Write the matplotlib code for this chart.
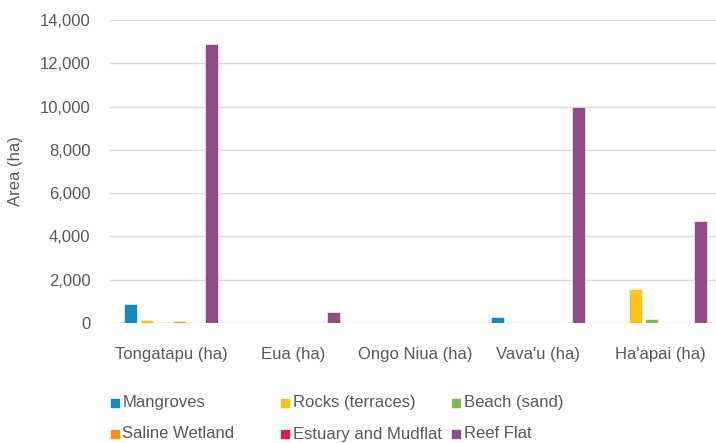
import numpy as np
import matplotlib.pyplot as plt
from matplotlib.patches import Rectangle

plt.rcParams['font.family'] = ['Liberation Sans', 'DejaVu Sans']

islands = ['Tongatapu (ha)', 'Eua (ha)', 'Ongo Niua (ha)', "Vava'u (ha)", "Ha'apai (ha)"]
series = ['Mangroves', 'Rocks (terraces)', 'Beach (sand)',
          'Saline Wetland', 'Estuary and Mudflat', 'Reef Flat']
colors = ['#1689BD', '#FDC01C', '#7CBB50', '#FB9112', '#DA1E4F', '#8F4C89']

mangroves = [880, 0, 0, 285, 0]
rocks = [140, 0, 0, 30, 1570]
beach = [40, 0, 0, 0, 170]
saline = [95, 0, 0, 0, 0]
estuary = [0, 0, 0, 0, 0]
reef = [12880, 510, 0, 9960, 4725]
values = [mangroves, rocks, beach, saline, estuary, reef]

W, H = 716, 443
fig = plt.figure(figsize=(W / 100, H / 100), dpi=100)
# plot area runs slightly past the right edge, like the cropped original
ax = fig.add_axes([110 / W, 1 - 323 / H, 611 / W, 303 / H])

x = np.arange(len(islands))
step = 0.133
width = 0.106
for i, (name, vals) in enumerate(zip(series, values)):
    off = (i - 2.5) * step
    ax.bar(x + off, vals, width, color=colors[i], label=name, zorder=3,
           edgecolor='white', linewidth=0.4)

ax.set_xlim(-0.5, len(islands) - 0.5)
ax.set_ylim(0, 14000)
ax.set_yticks(np.arange(0, 14001, 2000))
ax.yaxis.set_major_formatter(plt.FuncFormatter(lambda v, p: f'{int(v):,}'))
ax.set_xticks(x)
ax.set_xticklabels(islands)
ax.grid(axis='y', color='#D9D9D9', linewidth=1, zorder=0)
for s in ax.spines.values():
    s.set_visible(False)
ax.tick_params(axis='both', length=0, labelsize=12, labelcolor='#595959')
ax.tick_params(axis='y', pad=14)
ax.tick_params(axis='x', pad=17)
ax.set_ylabel('Area (ha)', fontsize=12, color='#595959', labelpad=12)

# legend, equal-width columns like the original
col_x = [110.5, 281, 452]
row_y = [403, 434]
for i, name in enumerate(series):
    cx = col_x[i % 3]
    cy = row_y[i // 3]
    fig.patches.append(Rectangle((cx / W, 1 - (cy + 4) / H), 8 / W, 8 / H,
                                 transform=fig.transFigure, color=colors[i]))
    fig.text((cx + 12) / W, 1 - cy / H, name, fontsize=12, color='#595959',
             va='center', ha='left')

fig.savefig('out.png', dpi=100)
